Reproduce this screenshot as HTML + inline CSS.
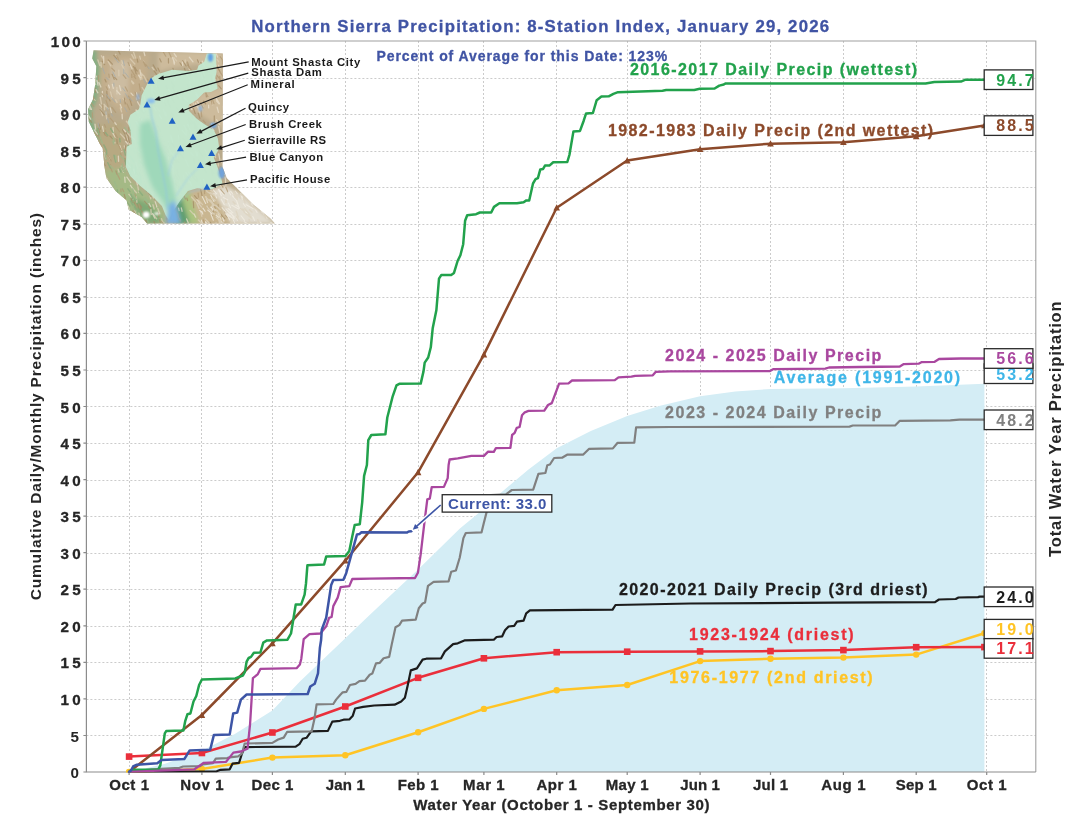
<!DOCTYPE html>
<html><head><meta charset="utf-8"><title>Northern Sierra Precipitation: 8-Station Index</title>
<style>html,body{margin:0;padding:0;background:#fff}svg{display:block}text{font-family:"Liberation Sans",Arial,sans-serif;font-weight:bold}</style></head><body>
<svg width="1080" height="835" viewBox="0 0 1080 835">
<rect width="1080" height="835" fill="#fff"/>
<path d="M86.4 735.5H1035.8M86.4 699.5H1035.8M86.4 662.5H1035.8M86.4 626.5H1035.8M86.4 589.5H1035.8M86.4 553.5H1035.8M86.4 516.5H1035.8M86.4 480.5H1035.8M86.4 443.5H1035.8M86.4 406.5H1035.8M86.4 370.5H1035.8M86.4 333.5H1035.8M86.4 297.5H1035.8M86.4 260.5H1035.8M86.4 224.5H1035.8M86.4 187.5H1035.8M86.4 151.5H1035.8M86.4 114.5H1035.8M86.4 78.5H1035.8M129.5 41.0V772.0M201.5 41.0V772.0M272.5 41.0V772.0M345.5 41.0V772.0M418.5 41.0V772.0M483.5 41.0V772.0M556.5 41.0V772.0M627.5 41.0V772.0M700.5 41.0V772.0M770.5 41.0V772.0M843.5 41.0V772.0M916.5 41.0V772.0M986.5 41.0V772.0" fill="none" stroke="#cbcbcb" stroke-width="1" stroke-dasharray="2 2"/>
<polygon fill="#d4edf5" points="129.1,772.0 164.3,764.0 201.9,750.8 234.8,734.0 272.4,710.6 299.9,681.4 345.3,638.2 369.9,614.8 418.1,569.5 459.9,528.6 483.9,508.8 498.0,495.2 528.5,469.4 556.7,448.2 590.8,431.1 627.2,416.1 660.1,405.8 700.1,396.3 735.3,391.5 770.5,389.0 843.4,388.2 916.2,386.4 984.4,383.8 984.4,772.0 129.1,772.0"/>
<path d="M86.4 41.0H1035.8V772.0" fill="none" stroke="#a0a0a0" stroke-width="1.1"/>
<path d="M86.4 41.0V772.0H1035.8" fill="none" stroke="#8c8c8c" stroke-width="1.2"/>
<path d="M86.4 772.0h-3M86.4 735.5h-3M86.4 698.9h-3M86.4 662.4h-3M86.4 625.8h-3M86.4 589.2h-3M86.4 552.7h-3M86.4 516.1h-3M86.4 479.6h-3M86.4 443.1h-3M86.4 406.5h-3M86.4 370.0h-3M86.4 333.4h-3M86.4 296.9h-3M86.4 260.3h-3M86.4 223.8h-3M86.4 187.2h-3M86.4 150.6h-3M86.4 114.1h-3M86.4 77.6h-3M86.4 41.0h-3M129.1 772.0v3M201.9 772.0v3M272.4 772.0v3M345.3 772.0v3M418.1 772.0v3M483.9 772.0v3M556.7 772.0v3M627.2 772.0v3M700.1 772.0v3M770.5 772.0v3M843.4 772.0v3M916.2 772.0v3M986.7 772.0v3" stroke="#8a8a8a" stroke-width="1.2" fill="none"/>
<defs><clipPath id="land"><polygon points="93.6,50.3 92.3,58.6 96.4,66.2 95.0,85.7 92.9,99.6 88.1,109.3 88.8,121.8 94.3,132.9 99.9,144.0 102.7,148.5 104.5,167.0 106.4,178.0 115.6,191.0 126.7,200.4 128.6,209.6 141.6,217.0 147.0,223.5 274.9,223.5 271.0,219.0 252.7,204.0 239.7,191.0 226.7,178.0 222.6,167.0 222.8,53.4"/></clipPath>
<filter id="b2" x="-20%" y="-20%" width="140%" height="140%"><feGaussianBlur stdDeviation="2.2"/></filter>
<filter id="b0" x="-5%" y="-5%" width="110%" height="110%"><feGaussianBlur stdDeviation="0.5"/></filter>
<filter id="b1" x="-20%" y="-20%" width="140%" height="140%"><feGaussianBlur stdDeviation="1"/></filter>
</defs>
<g clip-path="url(#land)">
<rect x="86" y="48" width="192" height="178" fill="#b9aa8c"/>
<g filter="url(#b2)">
<polyline points="93.6,50.3 92.3,58.6 96.4,66.2 95.0,85.7 92.9,99.6 88.1,109.3 88.8,121.8 94.3,132.9 99.9,144.0 102.7,148.5 104.5,167.0 106.4,178.0 115.6,191.0 126.7,200.4 128.6,209.6 141.6,217.0 147.0,223.5" fill="none" stroke="#7fae82" stroke-width="7"/>
<polygon points="158,52 224,52 224,130 196,112 186,108 200,94 218,88 216,72 198,64 172,68 158,72" fill="#cdbb9c"/>
<polygon points="100,56 150,54 146,80 136,100 124,116 110,104 100,84" fill="#c3ae8c"/>
<polygon points="112,62 130,60 128,92 118,104 108,90" fill="#d0c2aa" opacity=".7"/>
<polygon points="96,125 124,122 124,168 140,190 160,208 166,224 140,224 120,200 104,178 100,150" fill="#b7a982"/>
<polygon points="104,170 124,168 132,182 150,196 164,210 168,224 140,224 128,208 114,192" fill="#a4b985"/>
<polygon points="130,196 150,204 160,216 160,224 146,224 136,210" fill="#7fa974"/>
<polygon points="186,192 224,184 240,192 276,224 176,224" fill="#c9b690"/>
<polygon points="212,190 226,186 244,196 276,224 232,224 222,206" fill="#e2ddd0"/>
<polygon points="181,196 189,190 199,224 188,224" fill="#a9c480"/>
<polygon points="174,202 181,196 190,224 176,224" fill="#5f9e70"/>
</g>
<g filter="url(#b0)" opacity=".75">
<path d="M174.0 179.1l1.1 6.7M190.1 210.5l3.1 3.4M218.2 162.9l0.2 3.0M152.7 92.9l1.7 4.8M89.8 87.7l3.5 5.6M193.7 77.8l0.5 3.1M173.2 72.0l4.5 4.6M116.9 87.5l0.1 6.4M127.9 217.3l1.9 5.2M116.3 213.7l1.6 6.7M211.3 102.0l1.5 2.9M108.1 61.3l2.7 4.5M88.5 168.0l1.9 3.4M201.0 133.6l2.3 4.0M185.2 59.9l0.0 2.6M191.5 197.0l4.1 4.4M138.5 150.7l1.9 2.0M113.0 216.2l3.4 4.8M216.3 213.9l2.0 3.6M160.4 185.0l3.7 4.5M198.0 199.6l4.6 5.0M100.6 109.3l2.0 6.3M134.9 210.8l1.3 3.7M131.7 80.9l2.1 2.4M183.1 223.4l1.6 2.2M224.2 142.8l1.6 3.2M170.0 193.8l1.8 4.0M95.7 209.4l3.2 3.5M203.7 72.7l1.4 6.6M175.0 187.1l2.8 3.4M108.6 197.0l2.3 3.9M225.9 198.3l0.1 4.5M155.4 176.9l1.5 3.5M143.7 75.5l3.2 6.2M220.5 159.1l1.5 3.7M100.3 97.4l1.1 6.3M137.9 186.8l1.0 5.5M179.6 182.2l2.7 5.0M126.8 134.5l1.0 5.5M128.6 214.5l1.4 4.9M89.6 145.2l3.0 4.6M151.9 192.1l1.6 5.9M136.0 162.1l1.2 6.1M136.3 196.7l0.6 5.6M222.7 216.4l1.8 4.6M110.9 195.6l0.2 4.6M183.4 175.2l0.7 3.2M195.7 151.1l1.1 4.2M174.1 184.8l1.6 5.5M91.8 77.8l2.3 4.9M118.2 169.4l0.8 2.6M153.1 89.4l2.1 2.3M131.8 81.6l1.5 2.2M152.2 116.2l1.5 4.9M120.8 207.2l3.0 3.1M126.4 121.3l3.9 4.9M139.6 56.3l0.9 2.8M163.2 109.1l2.2 6.5M201.0 122.9l0.8 5.3M139.0 74.7l1.5 4.8M220.1 218.4l1.2 3.9M211.3 50.2l3.2 3.9M172.9 74.5l1.8 6.2M139.9 125.1l2.1 3.2M222.2 116.1l0.2 6.6M170.2 95.2l0.1 4.7M145.3 105.5l0.1 4.7M127.5 133.0l3.3 4.1M149.2 101.0l1.0 6.1M89.8 142.7l3.6 5.7M195.9 92.7l1.7 2.7M224.5 101.0l1.4 4.4M177.0 155.1l0.6 3.0M192.9 102.3l1.4 3.8M129.0 142.2l1.6 3.8M190.8 152.8l2.5 2.7M150.9 209.5l0.4 4.9M90.0 185.4l2.2 4.6M185.7 160.0l2.6 6.1M141.2 118.2l0.4 3.4M128.9 194.4l4.1 4.7M183.9 125.3l3.1 5.1M213.7 74.8l1.9 4.6M156.7 107.5l3.1 4.1M200.0 61.9l3.4 5.1M197.3 165.5l3.9 4.2M223.1 223.7l0.6 2.6M204.2 88.1l1.8 6.5M186.3 73.4l3.4 5.7M108.7 156.2l1.4 2.9M173.9 57.6l2.7 3.3M97.9 60.0l1.9 5.5M209.2 73.4l1.7 3.5M170.8 135.2l0.2 4.2M95.7 171.3l3.2 4.2M157.8 208.4l1.8 5.0M124.3 146.0l3.2 4.9M159.3 73.3l2.3 3.5M189.7 81.2l1.2 5.3M99.8 166.2l2.0 2.3M170.0 91.5l0.4 4.6M132.6 188.6l3.9 4.2M95.4 76.2l0.2 5.6M118.8 70.2l0.1 5.5M201.2 74.3l1.2 3.9M120.4 108.0l1.2 3.9M141.2 73.7l0.7 5.4M199.0 125.4l0.5 4.8M169.8 149.7l0.8 4.2M101.4 55.8l1.5 2.2M210.7 133.7l0.5 2.5M152.9 204.8l1.3 4.2M152.2 67.4l1.9 2.6M139.7 117.1l0.3 3.2M123.1 98.3l2.3 3.0M120.5 133.9l4.5 4.9M138.9 213.2l1.3 5.4M153.1 214.5l3.5 4.3M128.2 167.4l0.7 3.2M115.7 54.3l1.6 2.4M143.3 219.4l1.8 3.4M152.6 99.3l1.2 5.6M110.5 91.9l1.7 6.5M177.1 124.9l0.0 2.5M96.4 185.6l1.2 2.4M163.7 222.2l1.5 3.8M100.9 62.4l0.4 4.7M217.1 59.4l1.5 2.3M142.8 60.5l2.3 3.6M130.2 58.9l4.6 5.1M112.8 138.5l2.2 4.4M99.6 104.6l3.1 3.8M215.1 154.1l0.4 3.4M90.4 143.9l1.9 4.7M140.0 158.8l1.4 6.5M130.5 128.1l0.5 3.5M104.0 104.2l3.9 4.6M201.1 104.4l1.8 2.3M121.8 64.7l2.2 4.6M121.9 60.7l0.6 2.6M115.6 99.8l1.4 2.6M146.0 104.6l0.9 4.9M211.7 163.8l0.9 5.0M149.0 192.1l1.8 6.6M188.5 172.0l3.3 5.2M140.8 72.7l2.1 2.5M124.2 167.6l1.5 2.4M193.4 147.0l1.9 2.0M106.0 112.1l0.7 6.7M172.5 90.2l1.8 3.7M133.6 52.2l2.0 5.9M188.3 66.6l1.2 3.1M185.9 127.6l0.3 6.1M104.3 105.2l0.3 4.6M147.9 126.8l1.2 6.6M161.5 218.7l0.9 2.8M200.4 123.0l4.6 5.2M92.5 150.4l2.5 6.0M142.2 87.5l1.8 2.9M165.6 112.1l0.7 3.5M136.5 93.2l0.1 6.3M205.3 157.6l1.4 2.8M202.8 135.3l2.2 2.4M101.6 174.9l0.3 3.4M198.0 106.4l1.5 6.2M174.0 189.3l1.2 2.3M158.6 152.1l2.5 3.4M131.8 54.7l2.1 3.6M153.7 172.4l3.1 6.2M200.5 210.8l1.3 5.4" stroke="#dccfb6" stroke-width="1.4" fill="none" stroke-linecap="round"/>
<path d="M198.2 113.1l1.7 5.3M160.1 99.4l1.9 2.2M137.1 151.0l1.0 5.6M130.3 211.7l3.0 4.9M97.9 181.1l1.7 6.6M211.8 169.7l0.7 5.8M172.3 86.3l2.4 6.1M121.0 219.6l1.5 4.0M88.4 117.9l3.2 4.4M212.1 208.4l1.2 4.1M103.0 169.8l1.9 5.4M139.6 204.3l2.2 3.2M124.9 158.3l0.3 3.2M175.3 183.4l1.6 2.3M166.1 194.5l0.5 5.8M145.5 124.0l2.3 6.1M129.7 98.9l2.0 6.5M113.8 55.3l3.2 3.9M171.3 82.0l3.0 4.2M177.2 170.1l0.6 2.7M154.9 195.2l0.1 3.9M205.3 162.3l0.2 3.5M184.2 196.3l1.2 2.7M114.7 77.3l2.0 2.4M173.0 68.3l1.1 5.7M200.7 189.8l1.5 6.5M220.1 158.8l0.1 3.0M102.2 61.2l2.4 3.4M151.3 168.4l0.6 2.8M143.6 144.6l1.4 2.7M170.4 115.1l1.1 4.6M220.9 214.4l3.9 4.5M187.5 101.5l2.9 3.6M136.9 178.3l0.3 4.2M128.1 136.8l1.4 5.9M167.4 101.5l3.1 5.5M159.7 58.8l1.5 3.2M179.9 62.8l1.6 2.5M153.9 221.3l1.5 4.0M216.9 66.0l2.9 5.4M88.7 183.3l1.2 2.3M122.6 129.7l2.2 4.3M95.3 88.0l0.1 4.5M153.1 64.9l3.6 5.8M182.8 138.4l2.8 3.2M195.4 125.6l2.0 6.2M177.0 160.6l1.8 1.9M194.2 121.9l0.6 6.2M214.3 115.9l0.0 5.9M211.1 75.8l0.7 4.3M222.1 223.0l2.5 3.6M125.4 131.8l2.9 4.7M105.0 79.4l1.1 2.6M140.6 206.1l0.3 3.4M90.6 194.1l0.2 5.2M106.8 91.2l0.4 6.7M92.3 82.2l1.6 3.4M192.0 114.9l0.5 3.1M159.5 219.6l0.7 2.8M103.3 162.0l1.9 3.7M153.9 151.2l0.1 3.6M166.5 95.8l2.0 5.4M106.4 133.7l0.6 2.5M194.4 122.9l2.0 4.9M197.4 59.8l1.0 2.5M141.2 110.2l2.6 2.8M150.1 163.9l0.2 4.2M161.1 174.1l0.3 6.8M224.3 102.5l4.0 5.4M98.7 128.1l1.0 4.8M141.6 210.9l2.6 4.3M202.5 74.0l2.3 4.1M166.1 86.1l1.1 2.5M100.1 109.5l4.2 5.4M124.3 98.0l1.0 5.8M124.2 194.3l1.2 4.1M174.8 92.8l3.5 5.4M148.5 206.1l1.8 2.5M95.2 178.7l0.8 2.4M94.0 193.4l2.4 5.9M93.5 152.5l3.6 4.5M172.4 156.5l3.8 5.6M103.3 61.1l0.7 2.8M97.2 130.1l1.7 6.3M187.5 62.1l1.7 6.1M104.6 181.3l2.1 3.2M88.2 181.9l2.4 6.1M152.2 77.0l2.1 3.0M218.7 85.7l2.6 3.1M98.9 124.0l1.6 5.2M112.1 74.2l2.1 5.2M149.7 149.7l0.2 3.1M125.0 135.9l2.3 6.1M164.6 165.3l2.6 5.4M203.4 101.1l2.3 2.8M137.3 204.8l2.9 4.5M176.4 216.4l3.7 4.6M134.4 67.9l1.8 6.0M168.4 58.7l0.1 4.2M175.8 176.0l2.3 3.7M133.4 66.7l3.8 4.3M144.7 201.3l2.5 2.9M112.9 214.2l1.0 6.4M157.9 68.1l1.5 3.2M91.7 148.3l1.5 2.6M158.6 212.4l0.2 4.6M102.2 183.8l3.1 3.8M99.6 221.8l1.5 4.2M125.6 145.9l0.1 4.4M116.9 139.6l0.3 4.2M175.5 209.9l3.0 5.3M161.0 74.3l4.5 5.0M152.3 127.1l0.3 5.1M157.0 99.4l0.7 3.6M152.9 182.0l0.9 3.0M116.0 170.9l0.6 2.9M225.7 73.2l1.7 2.3M149.6 157.8l0.4 3.2M184.4 68.3l1.2 3.4M137.2 59.1l0.6 3.0M193.5 108.5l1.7 5.1M155.4 202.0l0.2 3.8M134.1 202.6l2.7 3.5M145.2 219.9l3.4 4.3M192.5 176.7l4.7 4.9M131.1 198.4l1.1 4.2M203.6 167.6l2.8 5.1M157.7 173.8l1.8 5.8M110.0 136.0l4.2 4.4M194.5 195.7l3.3 3.6M154.0 70.8l4.0 5.6M205.7 91.4l0.7 5.4M141.1 162.2l2.1 3.1M89.4 164.3l1.8 5.5M157.5 125.7l2.9 5.0M139.4 153.8l0.8 4.4M182.7 60.7l3.4 5.3M108.3 59.9l4.1 4.3M102.7 129.7l2.6 5.6M153.8 140.8l4.1 4.5M193.9 158.5l0.7 5.2M186.8 198.1l0.8 2.5M210.1 222.2l1.6 2.3M134.9 67.4l1.4 2.6M118.4 50.6l1.6 3.5M188.6 117.6l4.1 5.4M211.4 169.9l2.4 3.6M150.2 121.1l3.1 3.3M193.9 170.7l0.6 5.5M193.3 201.5l0.4 6.1M145.4 164.8l1.7 6.3M186.5 127.2l2.3 3.2M122.5 168.7l0.6 3.3M161.6 196.2l1.4 2.6M171.6 113.1l2.3 3.0M89.0 75.9l1.3 2.7M88.8 145.7l0.2 6.2M133.0 210.9l2.1 2.4M88.9 60.2l1.8 5.6M153.9 189.8l2.7 6.1M171.9 143.4l2.6 3.6M148.8 193.2l2.1 3.2M200.7 62.3l1.2 3.3M179.8 153.4l3.7 4.4M144.2 105.8l0.7 6.0M130.7 167.9l3.0 3.8M99.4 161.5l0.3 5.4M93.6 139.3l1.8 4.1M108.9 98.4l1.2 2.6M181.1 92.4l1.5 2.5" stroke="#a48c66" stroke-width="1.2" fill="none" stroke-linecap="round"/>
<path d="M216.5 100.8l2.6 3.1M218.4 65.3l1.7 3.0M182.1 130.3l4.1 4.9M133.3 169.4l2.6 5.9M96.0 89.7l1.9 3.1M201.4 137.4l2.3 4.2M204.7 149.1l2.2 5.0M172.9 120.6l1.3 2.8M148.6 202.9l2.1 3.6M171.3 152.7l2.7 3.6M189.3 57.2l3.7 4.6M212.9 61.7l3.4 4.1M127.3 164.2l3.1 3.4M110.3 107.8l1.1 4.7M205.8 196.5l1.8 6.0M112.5 132.6l2.7 4.6M103.4 204.0l2.8 5.3M218.1 213.6l2.9 5.7M225.6 72.6l1.1 5.7M151.2 98.4l2.6 3.5M216.6 119.9l2.9 4.4M148.4 156.8l1.5 3.5M92.9 192.4l0.9 3.5M156.9 151.1l2.4 6.1M195.5 103.3l2.6 4.6M110.4 212.5l3.2 3.5M125.7 141.5l2.3 2.6M224.5 187.1l2.6 3.8M92.5 71.2l4.0 5.6M131.0 93.1l2.0 2.3M225.4 178.8l0.4 6.2M196.0 94.4l2.2 3.0M97.0 80.5l1.0 4.6M89.4 103.0l0.7 6.3M188.7 177.3l0.3 5.0M140.9 149.7l1.4 2.3M123.9 129.6l1.8 2.2M122.1 114.1l0.2 4.7M203.5 179.5l1.2 3.8M142.2 105.2l1.8 6.1M197.1 101.4l1.5 2.0M168.7 89.7l2.7 2.8M119.5 85.7l1.3 5.0M126.9 177.1l3.8 5.4M104.4 153.0l1.3 5.6M155.2 201.6l1.6 5.4M98.9 82.5l2.0 4.5M101.1 179.1l2.2 4.1M160.0 196.0l2.6 4.3M171.6 164.0l1.9 3.2M152.9 154.6l0.8 3.0M149.6 147.5l1.7 2.4M216.2 53.6l1.4 3.5M92.3 97.0l2.6 3.4M213.6 63.8l2.7 4.9M174.2 53.6l2.1 3.1M211.5 126.9l2.5 3.9M154.9 76.0l1.5 5.6M153.9 143.5l1.2 6.7M172.6 57.7l2.0 5.1M133.7 169.1l2.5 4.7M172.8 166.6l0.3 5.7M185.9 172.5l2.9 4.4M173.6 60.6l0.7 3.5M155.9 141.1l1.3 5.8M152.6 213.5l2.1 4.6M224.8 106.3l1.5 6.6M99.7 185.2l1.3 4.8M197.0 199.6l2.9 3.7M172.9 171.6l0.2 6.1M202.3 61.2l2.8 6.0M218.6 181.6l2.9 5.2M161.4 166.1l1.8 6.1M186.6 218.9l1.8 4.4M178.7 147.8l4.5 5.1M132.0 136.9l2.3 2.5M216.2 98.3l3.2 5.3M121.3 166.1l2.1 6.2M153.8 107.2l2.2 3.5M88.0 70.8l2.4 3.1M194.0 213.9l1.7 3.2M128.5 159.4l1.2 2.8M160.3 96.8l3.7 4.8M102.5 126.4l0.9 4.9M208.6 105.2l0.1 2.7M211.5 123.8l2.5 2.6M224.5 174.6l1.2 6.0M88.9 103.4l2.6 6.0M213.3 76.0l0.0 5.0M130.0 64.4l2.1 4.4M150.6 104.0l0.2 4.6M130.5 185.3l2.4 3.7M102.4 91.4l0.0 5.3M160.3 167.2l1.2 4.7M138.6 75.6l2.1 2.2M143.9 51.8l1.0 3.9M120.2 104.6l1.3 3.2M205.6 134.0l1.9 2.2M210.9 150.6l3.0 4.9M94.3 204.7l0.3 5.5M95.0 124.1l0.6 5.1M116.8 90.8l3.2 3.6M113.0 127.5l0.5 6.5M155.9 186.4l4.2 5.3M207.4 134.0l0.3 3.8M223.3 106.2l0.4 6.3M217.0 176.5l2.5 2.8M178.5 208.1l0.6 2.6M136.0 110.0l2.1 2.8M159.2 114.9l2.3 3.7M218.7 153.8l1.3 6.6M92.3 203.2l2.2 2.6M190.0 181.0l1.4 4.4M187.7 124.5l2.0 2.8M103.6 56.4l0.2 6.8M136.1 121.8l3.2 5.1M156.0 79.7l0.6 6.7M94.4 129.9l3.0 4.4M137.5 101.8l2.7 4.5M157.4 134.9l1.1 4.5M218.7 126.3l1.1 6.6M173.8 152.6l0.9 5.6M114.7 122.5l1.6 2.1M182.8 107.2l1.4 2.2M91.1 166.9l2.1 3.9M181.3 207.9l0.8 3.4M224.5 82.0l1.7 5.1M127.7 204.7l1.7 5.4M107.1 194.8l2.7 4.5M189.7 106.1l2.1 3.4M223.0 164.4l2.0 4.6M178.5 95.6l1.9 2.3M168.3 154.2l0.1 5.3M205.7 221.7l1.7 4.1M153.0 114.7l0.9 5.0M104.9 216.2l2.1 5.5M163.5 152.4l1.0 2.9M106.1 177.2l1.5 2.7M200.5 180.1l0.8 4.2M106.2 182.2l3.1 4.5M184.1 97.6l3.6 3.7M197.1 152.4l0.0 3.5M188.9 125.7l1.2 3.7M119.8 145.4l2.0 6.3M171.3 136.9l1.4 5.1M144.3 96.4l1.0 4.1M93.1 79.6l2.6 4.9M178.5 135.3l0.6 3.9M136.4 180.7l1.1 4.3M210.7 54.6l2.2 6.0M209.3 83.6l0.7 4.8M217.1 107.1l1.4 5.2M224.7 109.0l1.4 2.7M182.4 62.2l0.4 3.1M114.3 215.3l2.2 5.5M135.7 92.2l3.2 6.1M114.5 207.5l0.5 5.5M124.7 177.1l0.4 5.2M118.4 156.1l0.2 5.2M108.6 85.2l0.8 2.6M88.2 115.1l2.5 4.0M98.1 147.4l1.0 3.8M168.3 141.7l0.8 5.0M176.1 148.1l0.4 2.9M103.7 200.6l0.3 2.5M211.4 156.0l0.6 5.6M139.9 69.8l1.0 5.6M152.9 97.1l3.1 5.9M151.9 86.5l0.1 6.9M112.4 84.3l0.9 4.1" stroke="#e8dfcc" stroke-width="1.3" fill="none" stroke-linecap="round"/>
<path d="M182.4 97.5l1.0 3.3M118.5 144.9l2.8 5.9M107.8 209.4l2.2 3.4M102.7 105.0l0.1 4.1M203.4 219.9l0.8 3.2M147.5 79.1l2.2 3.4M110.9 168.3l1.4 3.6M123.1 74.8l2.8 3.5M98.3 140.9l3.2 5.0M124.8 199.0l0.3 6.7M119.4 211.6l2.6 6.0M152.0 144.1l3.2 5.0M138.8 203.8l1.0 4.3M92.3 96.7l1.8 3.8M168.4 50.9l2.6 6.0M219.5 169.8l1.2 5.1M225.9 187.5l1.9 4.3M217.7 146.0l1.2 3.7M179.7 135.0l0.3 7.0M225.5 215.4l1.9 2.1M134.8 193.9l1.2 3.4M101.9 93.5l2.0 2.5M190.8 83.6l3.2 4.2M106.0 195.0l1.7 6.2M188.2 177.1l2.3 3.7M140.4 118.2l0.3 4.5M198.3 159.8l2.2 2.6M167.7 187.3l2.0 3.0M140.0 129.9l2.9 6.0M171.9 98.4l2.3 4.2M110.2 118.2l3.6 4.1M207.7 206.4l1.3 4.0M165.3 146.7l2.9 4.0M156.6 84.3l2.6 5.7M176.5 107.3l2.9 4.4M164.3 101.8l1.7 4.0M174.6 202.8l2.3 4.4M165.6 166.1l2.0 3.0M215.3 75.3l0.9 3.6M155.8 128.5l1.8 2.7M220.1 56.7l3.6 4.6M139.2 83.9l1.2 6.8M116.7 173.0l3.1 6.3M170.4 205.7l0.8 3.0M149.0 172.7l1.8 2.3M224.7 210.7l0.7 2.7M184.7 222.1l1.0 5.6M148.7 160.0l0.3 4.7M98.3 75.3l0.2 5.7M217.1 75.7l3.5 4.3M147.1 130.5l3.3 4.9M195.8 176.3l2.0 4.3M142.6 131.0l2.3 4.0M220.8 189.5l3.4 4.3M201.1 110.0l0.6 6.7M97.7 158.8l2.1 4.1M163.7 199.6l1.8 6.2M122.3 188.7l1.5 3.0M198.8 150.5l3.7 5.4M155.8 167.3l0.0 4.0M163.0 145.1l2.6 4.2M221.3 171.3l3.0 4.7M172.9 114.2l1.0 4.1M195.8 117.5l0.5 3.8M111.7 107.3l4.0 5.0M225.4 122.4l3.6 5.4M205.5 92.5l2.4 4.1M106.2 86.7l1.4 2.7M107.9 155.2l3.4 5.7M220.7 166.6l3.1 5.0M134.7 201.4l2.4 5.1M191.6 172.2l0.8 4.0M108.9 114.1l0.1 2.7M126.9 103.8l2.7 5.8M111.7 68.1l2.8 2.9M188.3 128.8l1.3 4.6M137.7 120.9l4.6 5.0M189.1 67.0l3.5 4.9M158.0 180.3l0.6 3.1M201.5 85.0l3.6 4.6M200.5 102.7l2.6 5.2M128.6 127.4l0.0 3.1M218.2 204.4l0.0 3.6M115.4 126.1l4.0 5.4M166.8 196.5l1.8 4.4M219.9 71.8l3.6 5.3M169.3 186.1l0.0 6.0M172.2 180.7l1.2 3.3M132.9 210.9l0.9 2.5M176.5 222.9l1.3 4.5M150.9 159.7l1.4 4.5M212.7 204.3l1.0 5.7M187.2 84.3l1.4 3.4M116.3 215.3l3.4 5.1M203.1 120.4l2.2 2.4M177.1 173.4l2.5 4.6M110.5 164.5l1.0 5.9M165.7 149.8l2.6 2.7M144.1 62.6l4.4 5.2M182.3 147.9l1.5 6.2M175.6 124.3l3.1 6.1M219.7 76.4l0.7 5.3M135.4 170.8l3.1 5.0M165.1 151.8l4.4 4.9M219.9 182.4l3.0 4.9M104.1 145.1l2.2 4.0M128.0 62.3l1.5 3.2M112.2 107.7l1.6 2.0M222.4 59.6l0.4 4.4M104.6 124.6l1.0 2.6M162.9 51.3l2.9 4.9M204.5 81.0l3.0 6.1M131.5 70.5l3.5 5.4M135.6 165.8l0.3 5.3M115.3 133.7l2.3 4.0M172.9 219.8l1.1 4.7M199.9 138.2l3.2 4.5M125.3 86.9l2.1 4.2M92.4 112.8l0.1 4.8M138.8 129.5l1.1 4.6M143.9 151.0l2.9 4.7M146.5 172.7l2.6 4.7M115.1 134.4l1.0 2.4M105.4 130.1l1.1 6.1M204.5 190.3l0.1 3.4M108.8 74.1l0.5 3.3M131.7 74.1l0.2 3.4M120.5 153.4l0.6 2.6M168.0 142.2l1.6 4.5M198.1 193.1l0.4 4.0M93.8 131.9l3.6 3.9M154.2 179.9l0.7 5.7M183.7 107.9l1.1 5.3M118.2 201.2l1.9 4.5M115.3 194.6l2.3 5.4M204.2 140.3l1.4 4.4M120.8 189.0l0.2 2.7M92.6 131.8l2.9 3.4M135.2 91.9l0.9 5.0M215.2 83.8l2.4 4.7M194.6 124.5l2.5 3.4M166.4 218.3l1.7 6.1M203.1 124.6l2.3 5.8M187.8 119.5l3.4 4.7M128.4 96.1l3.0 4.7M177.2 213.0l1.4 4.4M210.0 74.1l2.2 6.6M134.0 76.5l1.7 2.0M189.1 121.8l0.9 6.2M91.6 103.3l2.0 3.1M92.0 94.4l2.2 4.0M161.3 221.4l2.0 2.4M212.7 100.1l1.3 3.6M211.6 212.6l0.9 2.8M139.3 172.5l1.2 3.6M142.8 60.7l2.7 5.6M141.4 131.1l3.4 4.6M145.5 117.1l0.7 3.8M98.7 161.7l0.5 2.7M135.6 204.2l1.6 4.0M106.0 100.2l2.1 6.3M179.4 218.5l1.2 2.5M135.1 113.7l1.9 2.1M213.7 205.8l1.8 2.3M223.3 79.0l1.8 3.0M116.8 55.4l2.4 5.5M97.8 135.5l3.7 4.8M212.8 202.2l1.1 2.9M187.0 62.1l0.7 3.8M211.1 99.6l0.9 4.6" stroke="#b29a74" stroke-width="1.2" fill="none" stroke-linecap="round"/>
<path d="M122.5 87.9l2.5 3.3M124.7 107.8l2.2 3.9M106.7 94.6l2.8 4.3M106.3 77.5l2.1 2.4M125.2 72.9l3.5 4.4M112.8 72.0l2.4 4.8M136.3 122.8l1.1 3.1M123.1 60.3l1.3 5.2M145.4 117.4l1.4 5.0M111.7 97.6l3.4 4.6M123.7 69.0l0.1 4.5M107.5 118.6l1.3 4.3M143.4 79.4l2.3 3.6M107.0 107.7l1.1 2.6M102.7 68.0l1.8 5.4M139.0 118.8l1.7 4.9M113.8 83.2l0.2 3.0M129.7 98.0l2.8 3.2M139.0 121.8l2.4 5.0M98.1 123.1l1.3 5.1M120.2 99.5l0.4 2.9M105.9 111.7l0.3 2.9M125.5 93.6l2.7 4.6M111.3 113.7l1.1 2.3M147.9 66.9l1.3 1.6M114.9 58.0l3.5 4.6" stroke="#9eaab0" stroke-width="0.9" fill="none" stroke-linecap="round"/>
<path d="M251.8 194.1l2.7 1.5M205.5 222.2l2.8 3.2M199.7 210.4l2.9 2.6M230.1 213.0l4.2 4.0M210.7 207.2l6.6 3.8M268.4 207.9l3.3 3.8M254.4 208.0l2.7 4.5M227.2 213.5l3.8 2.8M214.8 193.8l1.9 4.2M253.5 187.8l1.9 5.0M254.0 190.0l4.1 5.8M218.5 189.5l4.9 4.8M255.4 188.4l5.6 5.1M218.5 189.3l2.9 6.5M230.8 212.5l3.5 6.3M210.8 213.7l2.5 6.5M236.7 201.0l2.6 7.5M258.8 205.2l2.8 6.8M235.3 191.0l2.1 3.0M222.1 207.6l4.0 4.8M260.0 222.0l5.8 5.2M221.2 199.2l3.8 6.9M235.6 216.2l2.0 4.1M244.2 221.7l3.2 1.7M264.1 207.5l4.8 5.1M230.6 191.3l4.9 4.7M246.1 204.8l7.0 3.8M202.2 196.6l3.5 6.8M249.7 200.5l3.1 5.5M241.1 215.8l3.5 4.5M216.1 215.5l2.9 1.9M245.1 187.8l1.6 3.6M232.4 195.9l4.0 4.6M211.3 206.7l1.2 3.5M213.0 193.4l2.6 1.7M270.8 222.6l6.2 3.6M241.2 193.9l1.4 3.3M245.9 211.6l2.2 3.6M207.7 210.0l4.6 3.9M253.7 187.2l4.0 6.8M227.5 207.8l5.5 5.0M213.3 189.8l3.3 4.0M240.5 193.8l2.0 5.3M226.3 214.4l6.6 3.8M261.1 195.8l2.1 2.4M257.8 223.0l4.6 6.4M232.8 219.0l3.2 6.9M231.8 205.3l6.7 3.8M202.9 208.1l2.2 3.2M223.3 197.4l4.4 2.4M225.8 213.3l4.0 6.6M263.9 195.7l3.7 5.3M257.5 191.3l4.5 4.1M220.6 220.8l4.5 4.7M201.3 220.1l2.6 7.4M222.6 217.7l1.1 3.3M201.8 211.2l1.0 3.0M261.4 211.1l2.4 2.8M235.5 204.9l6.0 4.5M253.7 192.3l3.4 4.9M269.2 223.3l1.3 3.0M228.9 191.8l1.7 3.0M260.6 209.4l4.3 6.4M263.8 213.8l3.2 4.7M236.4 187.1l5.2 3.8M228.4 203.1l2.1 4.5M252.8 216.6l1.8 3.8M243.4 203.7l2.0 2.8M210.8 195.3l3.2 6.1M225.9 209.0l3.9 4.2" stroke="#f2eee4" stroke-width="1.1" fill="none" stroke-linecap="round"/>
<path d="M222.8 222.4l1.4 3.3M205.3 218.9l4.2 4.6M243.0 209.0l1.4 3.5M263.1 195.9l3.8 2.3M236.2 216.5l4.7 6.3M210.8 200.4l3.6 4.8M250.3 205.2l5.8 3.7M258.0 188.7l1.3 2.7M249.4 209.7l2.6 2.3M216.1 209.8l4.4 5.5M209.4 209.6l2.4 2.1M210.6 190.2l2.6 1.8M272.1 199.7l2.5 4.5M235.9 195.6l1.4 3.8M270.9 215.6l1.4 3.2M273.0 210.8l3.5 4.7M230.7 222.2l2.5 7.3M207.0 206.1l2.0 3.4M265.5 214.6l3.7 2.5M249.1 219.5l1.4 4.2M261.2 208.3l3.0 2.9M204.2 187.3l2.5 2.6M211.9 198.2l3.3 2.2M216.0 223.1l4.2 4.4M238.2 222.5l3.3 6.9M264.0 214.0l1.9 4.3M243.4 198.6l1.6 4.0M274.0 195.0l4.9 4.6M240.6 194.2l6.1 4.1M212.2 205.4l2.3 4.9M233.2 192.2l2.1 5.6M248.1 201.0l2.5 4.2M209.9 199.5l3.5 6.4M236.1 211.1l2.2 5.8M272.1 195.6l2.7 6.2M240.5 208.5l2.5 1.8M198.4 219.9l4.2 4.3M230.5 219.4l2.4 4.2M245.8 194.1l1.3 3.6M267.1 206.4l6.5 4.5M211.5 211.8l2.8 2.3M257.7 219.8l2.5 5.9M246.1 192.0l1.4 4.4M245.8 187.0l4.2 3.8M233.0 201.7l2.2 2.2M246.4 199.5l4.1 2.6M248.3 214.3l2.5 2.6M244.8 208.8l5.1 5.9M224.6 205.9l3.2 1.8M211.2 193.1l2.9 2.1M267.7 208.3l3.8 4.4M218.1 218.9l2.5 4.5M197.7 186.0l5.8 3.3M198.4 203.1l3.1 3.8M219.2 221.7l2.3 6.4M237.9 222.2l2.1 3.6M206.9 191.5l4.2 2.7M243.4 193.9l4.0 2.5M231.7 219.4l2.8 6.6M216.3 217.3l4.5 3.8M237.7 194.9l2.7 3.4M258.1 194.9l1.8 3.5M196.7 202.7l2.4 5.7M215.7 205.2l4.6 4.3M218.5 192.4l1.0 3.0M206.6 198.1l4.2 3.9M234.6 191.9l2.8 5.9M210.2 192.4l4.7 3.0M245.6 213.4l5.7 4.6M266.3 204.0l3.2 2.1" stroke="#ddd3bf" stroke-width="1.4" fill="none" stroke-linecap="round"/>
<path d="M99.6 184.9l0.7 3.0M103.9 145.0l2.7 5.8M139.1 160.5l3.6 3.7M106.5 150.1l0.2 4.1M117.3 189.9l0.2 3.2M127.9 188.9l2.1 2.7M114.0 155.2l1.6 6.7M131.8 164.7l0.0 6.7M119.8 168.9l1.2 3.2M130.8 194.1l2.1 4.9M145.1 184.7l1.5 6.3M135.6 167.6l0.2 6.8M100.3 224.0l3.9 5.2M130.7 201.2l2.0 3.6M105.5 132.6l2.3 2.9M140.3 175.9l0.8 6.9M119.7 138.4l0.3 3.4M123.8 207.9l2.5 3.2M131.2 130.1l0.6 6.0M125.9 200.9l3.9 5.0M125.1 159.9l0.7 4.8M98.3 192.6l3.5 3.9M107.8 162.8l2.5 5.2M130.4 156.6l3.4 5.1M99.5 180.7l1.1 5.4M97.4 128.6l1.7 5.9M130.2 222.4l1.1 4.6M147.7 144.7l2.9 3.5M97.5 179.0l1.3 3.5M129.0 168.8l1.4 6.0M139.1 191.1l3.4 4.1M132.0 140.3l2.4 4.5M110.7 128.6l2.4 4.0M137.8 222.5l0.8 6.5M149.1 173.2l0.9 3.0M134.9 207.0l2.6 4.8M101.2 217.5l2.1 4.4M108.0 210.5l0.2 4.6M124.2 149.8l1.2 5.3M141.7 121.8l2.6 6.4M97.3 185.0l1.6 3.1M112.2 220.1l2.8 4.0M142.8 131.4l3.7 4.0M129.7 123.9l0.8 6.0M128.2 145.3l0.2 3.9M150.0 177.3l0.4 5.2M128.7 217.9l1.8 3.9M148.2 223.4l4.0 5.0M137.1 141.9l1.8 2.7M141.2 128.4l0.8 6.1" stroke="#86ab7c" stroke-width="1.5" fill="none" stroke-linecap="round"/>
<path d="M102.1 204.3l2.2 2.6M141.7 134.6l1.4 6.8M122.1 163.9l0.4 5.5M149.2 191.9l1.3 2.9M144.2 198.5l3.5 4.5M110.6 165.7l2.0 2.7M121.2 194.3l1.4 6.2M145.3 197.5l3.3 5.1M135.6 132.0l4.6 4.8M105.3 210.6l0.2 4.7M124.5 127.6l4.2 4.9M129.7 146.9l1.9 2.7M137.3 148.3l4.2 4.7M113.0 137.6l1.5 4.2M124.4 167.7l1.4 3.8M123.1 219.4l2.7 3.8M121.0 166.9l2.7 4.8M146.4 135.6l2.9 6.3M96.0 192.1l2.3 4.4M135.2 146.6l3.7 4.2M149.3 167.3l0.3 5.0M132.7 188.8l1.0 5.5M133.0 194.1l3.5 5.5M128.9 172.2l1.2 4.2M109.0 215.1l2.5 3.6M127.9 171.6l2.6 3.1M137.4 134.3l1.3 3.2M100.1 221.8l2.0 4.4M100.0 136.7l2.4 6.3M146.7 161.5l1.4 3.6M141.0 134.4l1.9 3.2M135.9 210.3l1.8 3.9M145.5 130.3l0.8 4.2M145.0 146.7l0.6 6.4M112.9 141.2l0.9 3.2M127.1 152.1l0.9 3.3M133.2 147.8l1.9 5.6M105.0 153.9l1.3 5.6M144.1 123.1l2.0 3.9M143.7 171.9l1.8 3.2M120.0 155.3l3.8 4.0M144.0 162.3l2.7 5.9M147.6 219.9l0.7 3.7M115.6 155.3l0.9 6.1M140.2 136.0l3.9 5.8M114.4 181.8l2.5 5.3M96.3 204.0l0.4 5.8M115.0 192.1l3.5 5.0M139.1 181.7l1.1 5.7M137.5 213.9l1.2 6.5" stroke="#9cb98a" stroke-width="1.3" fill="none" stroke-linecap="round"/>
</g>
<polygon points="206.8,53.4 204.1,62.1 198.5,65.5 197.1,69.7 188.8,71.1 172.1,69.7 158.2,73.9 151.3,78.0 147.1,84.3 141.6,95.4 140.2,105.1 138.8,109.3 130.4,114.8 127.7,121.8 130.4,130.1 131.8,144.0 126.7,146.7 125.8,167.0 130.4,176.3 139.7,185.6 150.8,194.8 161.9,205.9 165.6,215.2 169.0,220.0 173.0,211.5 180.4,200.4 187.9,191.1 197.1,188.3 211.9,189.3 222.5,183.7 221.2,178.1 217.5,167.0 213.8,157.8 219.3,148.5 217.9,138.4 213.8,130.1 204.1,123.9 197.1,119.0 188.8,110.7 188.8,105.1 197.1,99.6 204.1,92.6 211.0,91.9 217.9,88.4 215.2,78.7 216.6,71.8 215.9,53.4" fill="#c3e8d0" opacity=".95"/>
<g filter="url(#b2)">
<polygon points="140,124 150,120 158,140 166,160 172,182 176,200 170,214 164,204 152,186 144,164 140,144" fill="#9fd8ba"/>
<polygon points="168,206 174,200 178,210 181,224 166,224 168,214" fill="#78b0e2"/>
</g>
<g filter="url(#b1)">
<ellipse cx="210.4" cy="57.5" rx="2.6" ry="4.2" fill="#5f9fe4"/>
<ellipse cx="221.8" cy="172.7" rx="3.2" ry="6" fill="#6fa3dc"/>
<ellipse cx="213.3" cy="125.4" rx="3" ry="2.6" fill="#6ea4de"/>
<ellipse cx="200.4" cy="108.6" rx="1.8" ry="3" fill="#8fb4dc"/>
<ellipse cx="138" cy="97" rx="1.6" ry="3.6" fill="#93a8c0"/>
<ellipse cx="151" cy="101" rx="4" ry="2.4" fill="#8cc0ea"/>
<path d="M150 106 L152 118 L156 132 L158 150 L162 170 L166 190 L168 210" fill="none" stroke="#8fc5e0" stroke-width="1.2" opacity=".8"/>
<path d="M180 150 L172 160 L168 176 M200 166 L188 178 L176 196 M206 188 L190 192 L178 204" fill="none" stroke="#9ccbe6" stroke-width="1" opacity=".8"/>
<ellipse cx="146.2" cy="214.8" rx="3.4" ry="3.2" fill="#fff"/><ellipse cx="157" cy="213.6" rx="3" ry="1.2" fill="#fff"/>
</g>
</g>
<path d="M151.1 77.6l3.5 6.2h-7z" fill="#1f62c4"/>
<path d="M147.0 101.3l3.5 6.2h-7z" fill="#1f62c4"/>
<path d="M172.2 117.5l3.5 6.2h-7z" fill="#1f62c4"/>
<path d="M193.0 133.6l3.5 6.2h-7z" fill="#1f62c4"/>
<path d="M180.4 145.1l3.5 6.2h-7z" fill="#1f62c4"/>
<path d="M211.6 149.7l3.5 6.2h-7z" fill="#1f62c4"/>
<path d="M200.4 161.8l3.5 6.2h-7z" fill="#1f62c4"/>
<path d="M206.9 183.5l3.5 6.2h-7z" fill="#1f62c4"/>
<path d="M248.7 61.9L162.7 77.9" stroke="#1a1a1a" stroke-width="1.2" fill="none"/>
<path d="M158.0 78.8L163.3 75.4L164.1 80.1z" fill="#1a1a1a"/>
<path d="M248.3 73.1L158.9 98.7" stroke="#1a1a1a" stroke-width="1.2" fill="none"/>
<path d="M154.3 100.0L159.2 96.1L160.5 100.7z" fill="#1a1a1a"/>
<path d="M247.7 84.7L182.8 110.7" stroke="#1a1a1a" stroke-width="1.2" fill="none"/>
<path d="M178.3 112.5L182.8 108.1L184.6 112.6z" fill="#1a1a1a"/>
<path d="M245.5 108.3L200.6 131.6" stroke="#1a1a1a" stroke-width="1.2" fill="none"/>
<path d="M196.3 133.8L200.3 129.0L202.6 133.3z" fill="#1a1a1a"/>
<path d="M245.7 124.5L190.0 145.3" stroke="#1a1a1a" stroke-width="1.2" fill="none"/>
<path d="M185.5 147.0L190.1 142.7L191.8 147.2z" fill="#1a1a1a"/>
<path d="M244.8 140.3L220.9 147.9" stroke="#1a1a1a" stroke-width="1.2" fill="none"/>
<path d="M216.3 149.3L221.1 145.3L222.6 149.8z" fill="#1a1a1a"/>
<path d="M246.1 157.1L209.7 163.5" stroke="#1a1a1a" stroke-width="1.2" fill="none"/>
<path d="M205.0 164.3L210.3 160.9L211.1 165.7z" fill="#1a1a1a"/>
<path d="M247.0 179.8L214.7 185.5" stroke="#1a1a1a" stroke-width="1.2" fill="none"/>
<path d="M210.0 186.3L215.3 182.9L216.1 187.7z" fill="#1a1a1a"/>
<text x="251.3" y="65.8" font-size="11.3" fill="#1a1a1a" textLength="108.9" lengthAdjust="spacing">Mount Shasta City</text>
<text x="251.3" y="76.3" font-size="11.3" fill="#1a1a1a" textLength="70.5" lengthAdjust="spacing">Shasta Dam</text>
<text x="250.6" y="88.0" font-size="11.3" fill="#1a1a1a" textLength="44.0" lengthAdjust="spacing">Mineral</text>
<text x="247.9" y="111.2" font-size="11.3" fill="#1a1a1a" textLength="41.2" lengthAdjust="spacing">Quincy</text>
<text x="249.0" y="128.0" font-size="11.3" fill="#1a1a1a" textLength="72.8" lengthAdjust="spacing">Brush Creek</text>
<text x="247.7" y="143.8" font-size="11.3" fill="#1a1a1a" textLength="78.4" lengthAdjust="spacing">Sierraville RS</text>
<text x="249.4" y="160.6" font-size="11.3" fill="#1a1a1a" textLength="73.7" lengthAdjust="spacing">Blue Canyon</text>
<text x="250.0" y="183.1" font-size="11.3" fill="#1a1a1a" textLength="80.2" lengthAdjust="spacing">Pacific House</text>
<defs><clipPath id="plot"><rect x="86.4" y="41.0" width="949.4" height="731.6"/></clipPath></defs><g clip-path="url(#plot)">
<polyline fill="none" stroke="#ffc425" stroke-width="2.5" stroke-linejoin="round" stroke-linecap="round" points="129.1,772.0 201.9,768.9 272.4,757.6 345.3,755.2 418.1,732.2 483.9,708.9 556.7,690.3 627.2,685.0 700.1,661.1 770.5,658.7 843.4,657.6 916.2,654.6 984.4,633.3"/>
<circle cx="129.1" cy="772.0" r="3.2" fill="#ffc425"/>
<circle cx="201.9" cy="768.9" r="3.2" fill="#ffc425"/>
<circle cx="272.4" cy="757.6" r="3.2" fill="#ffc425"/>
<circle cx="345.3" cy="755.2" r="3.2" fill="#ffc425"/>
<circle cx="418.1" cy="732.2" r="3.2" fill="#ffc425"/>
<circle cx="483.9" cy="708.9" r="3.2" fill="#ffc425"/>
<circle cx="556.7" cy="690.3" r="3.2" fill="#ffc425"/>
<circle cx="627.2" cy="685.0" r="3.2" fill="#ffc425"/>
<circle cx="700.1" cy="661.1" r="3.2" fill="#ffc425"/>
<circle cx="770.5" cy="658.7" r="3.2" fill="#ffc425"/>
<circle cx="843.4" cy="657.6" r="3.2" fill="#ffc425"/>
<circle cx="916.2" cy="654.6" r="3.2" fill="#ffc425"/>
<circle cx="984.4" cy="633.3" r="3.2" fill="#ffc425"/>
<polyline fill="none" stroke="#ea2f3b" stroke-width="2.5" stroke-linejoin="round" stroke-linecap="round" points="129.1,756.6 201.9,753.0 272.4,732.5 345.3,706.5 418.1,677.8 483.9,658.3 556.7,652.2 627.2,651.7 700.1,651.4 770.5,651.1 843.4,650.1 916.2,647.2 984.4,647.1"/>
<rect x="125.8" y="753.3" width="6.6" height="6.6" fill="#ea2f3b"/>
<rect x="198.6" y="749.7" width="6.6" height="6.6" fill="#ea2f3b"/>
<rect x="269.1" y="729.2" width="6.6" height="6.6" fill="#ea2f3b"/>
<rect x="342.0" y="703.2" width="6.6" height="6.6" fill="#ea2f3b"/>
<rect x="414.8" y="674.5" width="6.6" height="6.6" fill="#ea2f3b"/>
<rect x="480.6" y="655.0" width="6.6" height="6.6" fill="#ea2f3b"/>
<rect x="553.4" y="648.9" width="6.6" height="6.6" fill="#ea2f3b"/>
<rect x="623.9" y="648.4" width="6.6" height="6.6" fill="#ea2f3b"/>
<rect x="696.8" y="648.1" width="6.6" height="6.6" fill="#ea2f3b"/>
<rect x="767.2" y="647.8" width="6.6" height="6.6" fill="#ea2f3b"/>
<rect x="840.1" y="646.8" width="6.6" height="6.6" fill="#ea2f3b"/>
<rect x="912.9" y="643.9" width="6.6" height="6.6" fill="#ea2f3b"/>
<rect x="981.1" y="643.8" width="6.6" height="6.6" fill="#ea2f3b"/>
<polyline fill="none" stroke="#1c1c1c" stroke-width="2.2" stroke-linejoin="round" stroke-linecap="round" points="129.1,772.0 216.7,771.3 220.5,769.8 229.7,769.3 232.5,763.7 239.1,762.8 241.9,753.7 244.7,747.1 295.7,746.6 299.4,744.2 302.7,738.7 306.5,737.8 311.2,731.3 327.9,730.9 332.3,721.6 339.9,720.8 343.6,719.7 349.3,719.4 352.8,715.7 355.1,708.5 363.1,706.9 374.2,705.5 394.6,704.7 401.2,701.5 404.9,697.8 407.8,685.0 410.8,670.4 416.9,668.4 422.6,659.6 426.3,658.7 441.1,658.3 444.9,651.4 453.1,644.1 457.8,643.3 464.4,640.4 493.8,639.7 496.6,637.0 502.2,636.3 505.0,630.2 508.6,626.5 514.2,625.8 517.0,621.7 523.6,620.7 526.2,613.4 529.9,610.4 612.6,609.7 615.5,605.0 690.2,603.5 834.0,602.6 935.0,602.2 939.0,599.5 955.7,599.0 958.5,597.5 978.0,597.1 979.7,596.6 984.4,596.6"/>
<polyline fill="none" stroke="#808080" stroke-width="2.2" stroke-linejoin="round" stroke-linecap="round" points="129.1,772.0 151.7,769.3 179.6,767.8 183.1,766.5 200.1,766.2 202.9,764.3 213.0,763.2 215.8,758.7 227.1,758.1 229.7,757.4 238.1,756.3 241.9,753.7 244.7,743.5 272.4,742.9 278.1,739.5 283.7,737.6 287.2,731.8 311.7,731.3 314.2,720.1 316.6,704.3 333.3,704.0 336.1,699.6 339.9,695.2 342.7,692.3 346.4,691.8 350.0,685.0 355.6,683.8 359.4,681.1 365.0,680.6 369.7,674.8 372.3,673.6 376.0,663.4 379.8,662.8 383.6,658.2 389.2,656.9 391.8,644.1 395.5,627.3 399.3,625.1 402.1,620.7 415.7,619.7 418.8,608.3 422.6,603.5 425.1,602.4 428.0,585.8 433.6,581.9 448.6,581.4 451.2,571.7 455.9,570.5 459.7,557.8 463.4,538.1 465.8,533.0 481.5,532.4 483.7,523.5 486.7,511.8 488.6,501.5 490.9,495.0 506.0,494.4 511.8,490.0 533.2,489.7 538.4,473.8 545.4,473.0 547.3,465.2 549.9,464.5 554.1,458.0 562.1,457.7 567.1,454.7 583.3,454.6 588.9,448.9 612.9,448.4 617.6,442.8 634.3,442.6 636.1,427.3 670.0,427.0 849.5,426.6 852.8,425.5 895.1,425.5 899.8,420.8 950.3,420.4 959.4,419.7 984.4,419.7"/>
<polyline fill="none" stroke="#8c4a2b" stroke-width="2.5" stroke-linejoin="round" stroke-linecap="round" points="129.1,772.0 201.9,715.0 272.4,643.3 345.3,560.7 418.1,472.3 483.9,354.6 556.7,207.7 627.2,160.5 700.1,149.2 770.5,143.7 843.4,142.2 916.2,136.3 984.4,125.4"/>
<path d="M201.9 711.5l3.3 6.4h-6.6z" fill="#8c4a2b"/>
<path d="M272.4 639.8l3.3 6.4h-6.6z" fill="#8c4a2b"/>
<path d="M345.3 557.2l3.3 6.4h-6.6z" fill="#8c4a2b"/>
<path d="M418.1 468.8l3.3 6.4h-6.6z" fill="#8c4a2b"/>
<path d="M483.9 351.1l3.3 6.4h-6.6z" fill="#8c4a2b"/>
<path d="M556.7 204.2l3.3 6.4h-6.6z" fill="#8c4a2b"/>
<path d="M627.2 157.0l3.3 6.4h-6.6z" fill="#8c4a2b"/>
<path d="M700.1 145.7l3.3 6.4h-6.6z" fill="#8c4a2b"/>
<path d="M770.5 140.2l3.3 6.4h-6.6z" fill="#8c4a2b"/>
<path d="M843.4 138.7l3.3 6.4h-6.6z" fill="#8c4a2b"/>
<path d="M916.2 132.8l3.3 6.4h-6.6z" fill="#8c4a2b"/>
<path d="M984.4 121.9l3.3 6.4h-6.6z" fill="#8c4a2b"/>
<polyline fill="none" stroke="#22a24c" stroke-width="2.5" stroke-linejoin="round" stroke-linecap="round" points="129.1,772.0 131.4,769.8 158.2,769.8 160.3,765.4 164.8,733.3 166.2,731.1 183.4,730.6 185.3,720.8 187.4,714.3 190.4,713.5 193.5,701.5 196.3,696.0 199.1,685.0 201.9,679.5 235.3,678.4 242.8,675.5 244.9,671.9 246.6,661.6 248.7,658.0 251.0,656.9 253.9,652.8 260.4,652.5 263.3,642.6 267.0,640.4 287.5,639.7 291.0,633.5 293.1,620.7 295.7,604.6 301.1,604.6 304.6,594.7 306.0,583.4 307.4,565.3 324.1,564.4 326.2,556.6 345.5,555.9 349.3,550.9 352.1,537.3 354.7,524.9 359.8,524.2 362.2,502.3 364.1,475.9 366.9,465.0 368.3,440.1 371.3,435.0 385.4,434.3 387.3,417.5 392.7,396.3 396.5,385.3 399.3,383.8 420.7,383.6 423.5,371.4 424.7,362.6 428.2,357.5 430.8,347.3 432.7,328.3 436.4,310.0 439.0,278.6 441.4,274.9 451.2,274.9 454.0,272.9 457.6,261.0 460.4,255.2 463.2,244.2 465.1,220.8 467.2,215.3 476.1,214.2 479.9,212.5 491.2,212.5 494.0,206.9 499.4,203.3 517.0,203.3 523.6,202.3 526.4,200.4 529.2,200.4 533.0,183.5 535.6,179.2 537.9,178.1 540.3,169.4 543.1,168.9 545.0,165.6 549.7,165.4 553.2,162.3 567.3,162.0 569.4,155.0 573.4,131.6 580.0,130.9 583.7,120.7 586.1,113.4 592.9,113.0 596.7,100.2 601.4,96.6 608.7,96.3 613.4,93.9 618.0,92.2 640.4,91.4 662.5,90.7 666.2,90.0 694.2,90.0 699.8,88.8 714.6,88.5 719.3,85.6 723.8,84.5 725.7,83.4 925.6,83.4 934.3,81.9 960.9,81.6 965.6,79.7 984.4,79.7"/>
<polyline fill="none" stroke="#a9479f" stroke-width="2.3" stroke-linejoin="round" stroke-linecap="round" points="129.1,772.0 152.6,770.9 194.4,769.3 203.8,762.8 226.1,761.8 229.0,758.1 233.4,752.6 240.9,751.5 247.5,748.8 250.1,723.8 252.9,678.1 257.6,674.4 260.4,668.9 296.6,668.2 299.9,664.5 301.3,658.7 303.7,639.2 309.5,634.2 320.4,633.5 326.2,626.3 329.1,617.8 331.6,617.0 333.3,606.1 337.7,597.6 340.6,587.1 349.3,586.1 352.3,579.0 369.9,578.7 415.0,578.0 417.9,572.8 420.7,554.2 424.4,522.7 427.3,499.3 429.8,498.6 431.7,487.2 443.9,486.9 447.7,478.1 448.6,465.0 449.6,459.5 457.8,458.4 471.4,455.9 483.9,455.9 488.1,451.6 493.8,451.8 495.9,448.2 510.4,447.9 512.1,435.0 514.7,432.8 516.8,427.8 519.6,427.0 522.0,415.3 524.8,412.3 528.5,410.9 544.3,410.6 548.0,405.0 551.8,403.1 559.1,383.6 568.5,383.3 572.0,380.5 614.8,380.2 618.5,377.3 631.4,376.7 635.2,375.8 652.8,375.3 655.6,371.9 670.0,371.4 769.6,371.2 773.1,369.2 825.3,368.7 829.0,367.5 859.8,367.0 899.8,366.5 903.8,364.1 918.6,363.7 921.4,362.2 934.3,361.9 939.0,359.0 960.9,358.5 984.4,358.5"/>
<polyline fill="none" stroke="#3d55a6" stroke-width="2.5" stroke-linejoin="round" stroke-linecap="round" points="129.1,772.0 131.0,770.5 133.1,766.5 136.9,764.7 157.3,763.2 161.5,760.0 184.3,759.1 189.7,750.4 210.2,749.8 213.9,734.9 229.7,734.4 233.2,713.5 237.2,712.6 240.9,699.6 246.6,694.5 307.7,694.0 310.3,686.5 314.7,683.8 318.0,673.3 319.9,647.7 321.1,640.0 321.8,629.5 326.2,617.8 331.2,584.9 333.3,580.0 343.4,579.7 346.2,573.2 357.0,534.4 359.4,534.1 361.5,532.2 406.8,532.6 408.7,531.5 411.5,531.3"/>
</g>
<rect x="984.2" y="363.9" width="48.7" height="19.6" fill="#fff" stroke="#2a2a2a" stroke-width="1.3"/>
<text x="996.2" y="379.5" font-size="16" fill="#3fb6e8" textLength="37.5" lengthAdjust="spacing">53.2</text>
<rect x="984.2" y="348.7" width="48.7" height="19.6" fill="#fff" stroke="#2a2a2a" stroke-width="1.3"/>
<text x="996.2" y="364.3" font-size="16" fill="#a9479f" textLength="37.5" lengthAdjust="spacing">56.6</text>
<rect x="984.2" y="69.9" width="48.7" height="19.6" fill="#fff" stroke="#2a2a2a" stroke-width="1.3"/>
<text x="996.2" y="85.5" font-size="16" fill="#22a24c" textLength="37.5" lengthAdjust="spacing">94.7</text>
<rect x="984.2" y="115.8" width="48.7" height="19.6" fill="#fff" stroke="#2a2a2a" stroke-width="1.3"/>
<text x="996.2" y="131.4" font-size="16" fill="#8c4a2b" textLength="37.5" lengthAdjust="spacing">88.5</text>
<rect x="984.2" y="410.0" width="48.7" height="19.6" fill="#fff" stroke="#2a2a2a" stroke-width="1.3"/>
<text x="996.2" y="425.6" font-size="16" fill="#808080" textLength="37.5" lengthAdjust="spacing">48.2</text>
<rect x="984.2" y="587.0" width="48.7" height="19.6" fill="#fff" stroke="#2a2a2a" stroke-width="1.3"/>
<text x="996.2" y="602.6" font-size="16" fill="#1c1c1c" textLength="37.5" lengthAdjust="spacing">24.0</text>
<rect x="984.2" y="619.4" width="48.7" height="19.6" fill="#fff" stroke="#2a2a2a" stroke-width="1.3"/>
<text x="996.2" y="635.0" font-size="16" fill="#ffc425" textLength="37.5" lengthAdjust="spacing">19.0</text>
<rect x="984.2" y="638.6" width="48.7" height="19.6" fill="#fff" stroke="#2a2a2a" stroke-width="1.3"/>
<text x="996.2" y="654.2" font-size="16" fill="#ea2f3b" textLength="37.5" lengthAdjust="spacing">17.1</text>
<path d="M440.7 505L415.5 527.3" stroke="#fff" stroke-width="4.4" fill="none"/>
<path d="M412.8 529.7L418.7 528.1L415.1 524.1z" fill="#fff" stroke="#fff" stroke-width="2.6" stroke-linejoin="round"/>
<path d="M440.7 505L416.5 526.4" stroke="#3d55a6" stroke-width="1.6" fill="none"/>
<path d="M412.8 529.7L418.7 528.1L415.1 524.1z" fill="#3d55a6"/>
<rect x="442.2" y="494.7" width="109.6" height="17.4" fill="#fff" stroke="#2a2a2a" stroke-width="1.3"/>
<text x="448.1" y="508.7" font-size="15" fill="#3d55a6" textLength="98.3" lengthAdjust="spacing">Current: 33.0</text>
<text x="629.9" y="74.8" font-size="16" fill="#22a24c" stroke="#22a24c" stroke-width=".3" textLength="287.1" lengthAdjust="spacing">2016-2017 Daily Precip (wettest)</text>
<text x="607.9" y="135.6" font-size="16" fill="#8c4a2b" stroke="#8c4a2b" stroke-width=".3" textLength="325.2" lengthAdjust="spacing">1982-1983 Daily Precip (2nd wettest)</text>
<text x="665.1" y="361.4" font-size="16" fill="#a9479f" stroke="#a9479f" stroke-width=".3" textLength="216.3" lengthAdjust="spacing">2024 - 2025 Daily Precip</text>
<text x="773.7" y="383.4" font-size="16" fill="#3fb6e8" stroke="#3fb6e8" stroke-width=".3" textLength="186.4" lengthAdjust="spacing">Average (1991-2020)</text>
<text x="665.1" y="418.4" font-size="16" fill="#808080" stroke="#808080" stroke-width=".3" textLength="216.3" lengthAdjust="spacing">2023 - 2024 Daily Precip</text>
<text x="618.9" y="595.2" font-size="16" fill="#1c1c1c" stroke="#1c1c1c" stroke-width=".3" textLength="308.6" lengthAdjust="spacing">2020-2021 Daily Precip (3rd driest)</text>
<text x="689.1" y="639.9" font-size="16" fill="#ea2f3b" stroke="#ea2f3b" stroke-width=".3" textLength="164.4" lengthAdjust="spacing">1923-1924 (driest)</text>
<text x="669.3" y="683.4" font-size="16" fill="#ffc425" stroke="#ffc425" stroke-width=".3" textLength="203.4" lengthAdjust="spacing">1976-1977 (2nd driest)</text>
<text x="251.2" y="32.1" font-size="16.8" fill="#4054a4" stroke="#4054a4" stroke-width=".3" textLength="577.8" lengthAdjust="spacing">Northern Sierra Precipitation: 8-Station Index, January 29, 2026</text>
<text x="376.5" y="61.3" font-size="14" fill="#4054a4" stroke="#4054a4" stroke-width=".3" textLength="290.7" lengthAdjust="spacing">Percent of Average for this Date: 123%</text>
<text x="70.6" y="778.0" font-size="15.2" fill="#262626">0</text>
<text x="70.6" y="741.5" font-size="15.2" fill="#262626">5</text>
<text x="60.5" y="704.9" font-size="15.2" fill="#262626" stroke="#262626" stroke-width=".3" textLength="20.1" lengthAdjust="spacing">10</text>
<text x="60.5" y="668.4" font-size="15.2" fill="#262626" stroke="#262626" stroke-width=".3" textLength="20.1" lengthAdjust="spacing">15</text>
<text x="60.5" y="631.8" font-size="15.2" fill="#262626" stroke="#262626" stroke-width=".3" textLength="20.1" lengthAdjust="spacing">20</text>
<text x="60.5" y="595.2" font-size="15.2" fill="#262626" stroke="#262626" stroke-width=".3" textLength="20.1" lengthAdjust="spacing">25</text>
<text x="60.5" y="558.7" font-size="15.2" fill="#262626" stroke="#262626" stroke-width=".3" textLength="20.1" lengthAdjust="spacing">30</text>
<text x="60.5" y="522.1" font-size="15.2" fill="#262626" stroke="#262626" stroke-width=".3" textLength="20.1" lengthAdjust="spacing">35</text>
<text x="60.5" y="485.6" font-size="15.2" fill="#262626" stroke="#262626" stroke-width=".3" textLength="20.1" lengthAdjust="spacing">40</text>
<text x="60.5" y="449.1" font-size="15.2" fill="#262626" stroke="#262626" stroke-width=".3" textLength="20.1" lengthAdjust="spacing">45</text>
<text x="60.5" y="412.5" font-size="15.2" fill="#262626" stroke="#262626" stroke-width=".3" textLength="20.1" lengthAdjust="spacing">50</text>
<text x="60.5" y="376.0" font-size="15.2" fill="#262626" stroke="#262626" stroke-width=".3" textLength="20.1" lengthAdjust="spacing">55</text>
<text x="60.5" y="339.4" font-size="15.2" fill="#262626" stroke="#262626" stroke-width=".3" textLength="20.1" lengthAdjust="spacing">60</text>
<text x="60.5" y="302.9" font-size="15.2" fill="#262626" stroke="#262626" stroke-width=".3" textLength="20.1" lengthAdjust="spacing">65</text>
<text x="60.5" y="266.3" font-size="15.2" fill="#262626" stroke="#262626" stroke-width=".3" textLength="20.1" lengthAdjust="spacing">70</text>
<text x="60.5" y="229.8" font-size="15.2" fill="#262626" stroke="#262626" stroke-width=".3" textLength="20.1" lengthAdjust="spacing">75</text>
<text x="60.5" y="193.2" font-size="15.2" fill="#262626" stroke="#262626" stroke-width=".3" textLength="20.1" lengthAdjust="spacing">80</text>
<text x="60.5" y="156.6" font-size="15.2" fill="#262626" stroke="#262626" stroke-width=".3" textLength="20.1" lengthAdjust="spacing">85</text>
<text x="60.5" y="120.1" font-size="15.2" fill="#262626" stroke="#262626" stroke-width=".3" textLength="20.1" lengthAdjust="spacing">90</text>
<text x="60.5" y="83.6" font-size="15.2" fill="#262626" stroke="#262626" stroke-width=".3" textLength="20.1" lengthAdjust="spacing">95</text>
<text x="50.8" y="47.0" font-size="15.2" fill="#262626" stroke="#262626" stroke-width=".3" textLength="29.8" lengthAdjust="spacing">100</text>
<text x="109.2" y="790.0" font-size="15.0" fill="#262626" stroke="#262626" stroke-width=".3" textLength="39.8" lengthAdjust="spacing">Oct 1</text>
<text x="180.3" y="790.0" font-size="15.0" fill="#262626" stroke="#262626" stroke-width=".3" textLength="43.2" lengthAdjust="spacing">Nov 1</text>
<text x="251.5" y="790.0" font-size="15.0" fill="#262626" stroke="#262626" stroke-width=".3" textLength="41.8" lengthAdjust="spacing">Dec 1</text>
<text x="325.8" y="790.0" font-size="15.0" fill="#262626" stroke="#262626" stroke-width=".3" textLength="39.0" lengthAdjust="spacing">Jan 1</text>
<text x="397.7" y="790.0" font-size="15.0" fill="#262626" stroke="#262626" stroke-width=".3" textLength="40.8" lengthAdjust="spacing">Feb 1</text>
<text x="463.1" y="790.0" font-size="15.0" fill="#262626" stroke="#262626" stroke-width=".3" textLength="41.6" lengthAdjust="spacing">Mar 1</text>
<text x="536.5" y="790.0" font-size="15.0" fill="#262626" stroke="#262626" stroke-width=".3" textLength="40.4" lengthAdjust="spacing">Apr 1</text>
<text x="605.8" y="790.0" font-size="15.0" fill="#262626" stroke="#262626" stroke-width=".3" textLength="42.8" lengthAdjust="spacing">May 1</text>
<text x="680.3" y="790.0" font-size="15.0" fill="#262626" stroke="#262626" stroke-width=".3" textLength="39.6" lengthAdjust="spacing">Jun 1</text>
<text x="752.9" y="790.0" font-size="15.0" fill="#262626" stroke="#262626" stroke-width=".3" textLength="35.2" lengthAdjust="spacing">Jul 1</text>
<text x="821.3" y="790.0" font-size="15.0" fill="#262626" stroke="#262626" stroke-width=".3" textLength="44.2" lengthAdjust="spacing">Aug 1</text>
<text x="895.7" y="790.0" font-size="15.0" fill="#262626" stroke="#262626" stroke-width=".3" textLength="41.0" lengthAdjust="spacing">Sep 1</text>
<text x="966.8" y="790.0" font-size="15.0" fill="#262626" stroke="#262626" stroke-width=".3" textLength="39.8" lengthAdjust="spacing">Oct 1</text>
<text x="413.3" y="810.0" font-size="15.0" fill="#262626" stroke="#262626" stroke-width=".3" textLength="296.3" lengthAdjust="spacing">Water Year (October 1 - September 30)</text>
<text transform="translate(41.3 600.3) rotate(-90)" font-size="15.5" fill="#262626" textLength="387.3" lengthAdjust="spacing">Cumulative Daily/Monthly Precipitation (inches)</text>
<text transform="translate(1061.1 556.9) rotate(-90)" font-size="16.5" fill="#262626" textLength="255.5" lengthAdjust="spacing">Total Water Year Precipitation</text>
</svg></body></html>
